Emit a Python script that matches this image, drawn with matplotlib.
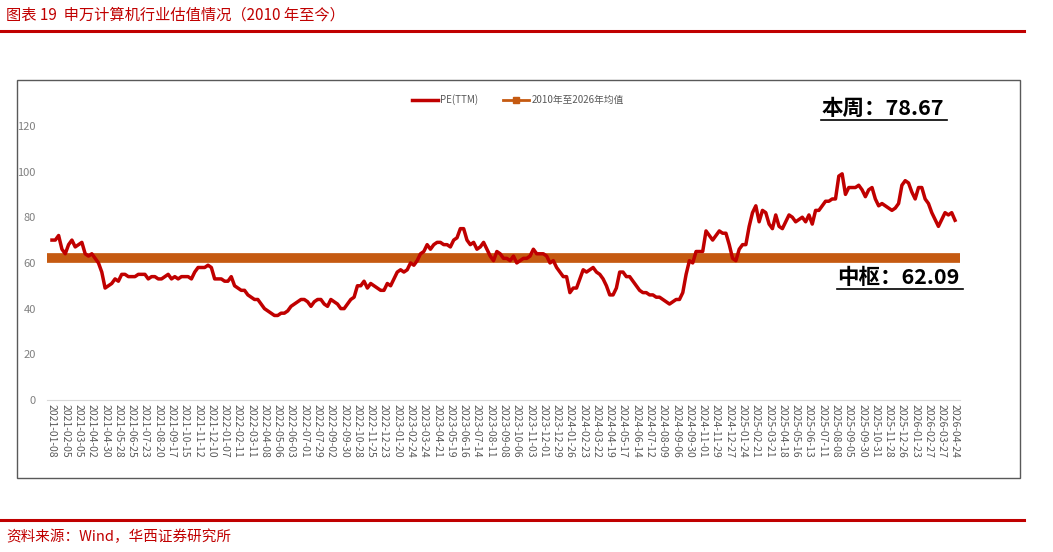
import matplotlib
matplotlib.use("Agg")
import matplotlib.pyplot as plt
from matplotlib.patches import Rectangle
from matplotlib.lines import Line2D

plt.rcParams['font.family'] = ['Noto Sans CJK SC', 'DejaVu Sans']

tick_labels = ["2021-01-08","2021-02-05","2021-03-05","2021-04-02","2021-04-30","2021-05-28","2021-06-25","2021-07-23","2021-08-20","2021-09-17","2021-10-15","2021-11-12","2021-12-10",
"2022-01-07","2022-02-11","2022-03-11","2022-04-08","2022-05-06","2022-06-03","2022-07-01","2022-07-29","2022-09-02","2022-09-30","2022-10-28","2022-11-25","2022-12-23",
"2023-01-20","2023-02-24","2023-03-24","2023-04-21","2023-05-19","2023-06-16","2023-07-14","2023-08-11","2023-09-08","2023-10-06","2023-11-03","2023-12-01","2023-12-29",
"2024-01-26","2024-02-23","2024-03-22","2024-04-19","2024-05-17","2024-06-14","2024-07-12","2024-08-09","2024-09-06","2024-09-30","2024-11-01","2024-11-29","2024-12-27",
"2025-01-24","2025-02-21","2025-03-21","2025-04-18","2025-05-16","2025-06-13","2025-07-11","2025-08-08","2025-09-05","2025-09-30","2025-10-31","2025-11-28","2025-12-26",
"2026-01-23","2026-02-27","2026-03-27","2026-04-24"]

pe_ttm = [70,70,72,66, 64,68,70,67, 68,69,64,63, 64,62,60,56, 49,50,51,53, 52,55,55,54,
54,54,55,55, 55,53,54,54, 53,53,54,55, 53,54,53,54, 54,54,53,56, 58,58,58,59,
58,53,53,53, 52,52,54,50, 49,48,48,46, 45,44,44,42, 40,39,38,37, 37,38,38,39,
41,42,43,44, 44,43,41,43, 44,44,42,41, 44,43,42,40, 40,42,44,45, 50,50,52,49,
51,50,49,48, 48,51,50,53, 56,57,56,57, 60,59,61,64, 65,68,66,68, 69,69,68,68,
67,70,71,75, 75,70,68,69, 66,67,69,66, 63,61,65,64, 62,62,61,63, 60,61,62,62,
63,66,64,64, 64,63,60,61, 58,56,54,54, 47,49,49,53, 57,56,57,58, 56,55,53,50,
46,46,49,56, 56,54,54,52, 50,48,47,47, 46,46,45,45, 44,43,42,43, 44,44,47,55,
61,60,65,65, 65,74,72,70, 72,74,73,73, 68,62,61,66, 68,68,76,82, 85,78,83,82,
77,75,81,76, 75,78,81,80, 78,79,80,78, 81,77,83,83, 85,87,87,88, 88,98,99,90,
93,93,93,94, 92,89,92,93, 88,85,86,85, 84,83,84,86, 94,96,95,91, 88,93,93,88,
86,82,79,76, 79,82,81,82, 78.67]

mean_value = 62.09
n = len(pe_ttm)

fig = plt.figure(figsize=(10.53, 5.52), dpi=100)
W, H = 1053, 552
def fx(px): return px / W
def fy(py): return 1 - py / H

red = '#C00000'
orange = '#C55A11'
fig.text(fx(6), fy(15), "图表 19  申万计算机行业估值情况（2010 年至今）", color=red, fontsize=11, va='center', ha='left')
fig.add_artist(Line2D([fx(0), fx(1024)], [fy(31), fy(31)], color=red, lw=2.2))
fig.add_artist(Line2D([fx(0), fx(1024)], [fy(520), fy(520)], color=red, lw=2.2))
fig.text(fx(6), fy(537), "资料来源：Wind，华西证券研究所", color=red, fontsize=10.5, va='center', ha='left')
fig.add_artist(Rectangle((fx(17), fy(478)), fx(1020-17), fy(80) - fy(478), fill=False, ec='#595959', lw=1, transform=fig.transFigure))

ax = fig.add_axes([fx(47), fy(400), fx(913), fy(103) - fy(400)])
x = list(range(n))
ax.plot([-1.5, n + 0.5], [mean_value, mean_value], color=orange, lw=7, solid_capstyle='butt', zorder=1)
ax.plot(x, pe_ttm, color=red, lw=2.5, zorder=2)
ax.set_xlim(-1.5, n + 0.5)
ax.set_ylim(0, 130)
ax.set_yticks([0, 20, 40, 60, 80, 100, 120])
ax.set_xticks(list(range(0, n, 4)))
ax.set_xticklabels(tick_labels, rotation=-90, fontsize=7.5, color='#595959')
ax.tick_params(axis='y', labelsize=8, colors='#808080', length=0, pad=8)
ax.tick_params(axis='x', length=0, pad=3)
for s in ['top', 'right', 'left']:
    ax.spines[s].set_visible(False)
ax.spines['bottom'].set_color('#D9D9D9')

# legend
fig.add_artist(Line2D([fx(412), fx(438)], [fy(100), fy(100)], color=red, lw=2.5))
fig.text(fx(440), fy(100), "PE(TTM)", fontsize=7, color='#595959', va='center')
fig.add_artist(Line2D([fx(503), fx(529)], [fy(100), fy(100)], color=orange, lw=2))
fig.add_artist(Line2D([fx(516)], [fy(100)], color=orange, marker='s', markersize=5, lw=0))
fig.text(fx(532), fy(100), "2010年至2026年均值", fontsize=7, color='#595959', va='center')

fig.text(fx(821), fy(108), "本周：78.67", fontsize=15.5, fontweight='bold', color='black', va='center')
fig.add_artist(Line2D([fx(821), fx(947)], [fy(120), fy(120)], color='black', lw=1.2))
fig.text(fx(837), fy(277), "中枢：62.09", fontsize=15.5, fontweight='bold', color='black', va='center')
fig.add_artist(Line2D([fx(837), fx(963)], [fy(289), fy(289)], color='black', lw=1.2))

fig.savefig("out.png", dpi=100)
